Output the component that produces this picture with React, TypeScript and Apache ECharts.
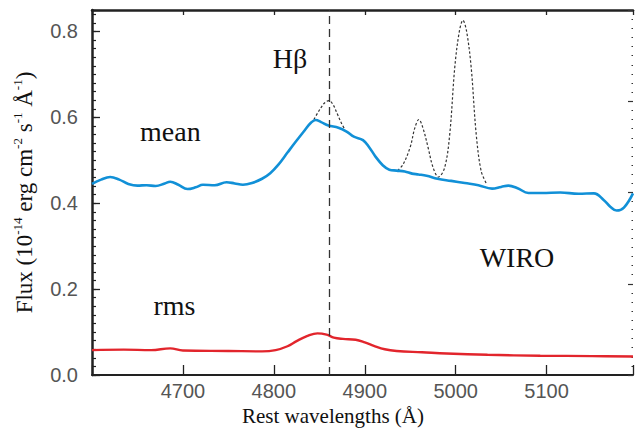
import React, { useEffect, useRef } from "react";
import * as echarts from "echarts";

// Rest wavelength (Å) and flux (1e-14 erg cm^-2 s^-1 Å^-1) of the mean spectrum
const meanWave = [4600, 4610, 4620, 4630, 4640, 4650, 4660, 4670, 4680, 4686, 4695, 4705, 4714, 4722, 4735, 4748, 4757, 4766, 4776, 4787, 4796, 4805, 4815, 4824, 4834, 4841, 4846, 4852, 4860, 4871, 4880, 4888, 4898, 4905, 4912, 4920, 4927, 4935, 4944, 4952, 4959, 4968, 4980, 4995, 5010, 5025, 5040, 5050, 5058, 5068, 5080, 5095, 5115, 5135, 5152, 5163, 5170, 5177, 5185, 5195];
const meanFlux = [0.445, 0.455, 0.461, 0.455, 0.445, 0.441, 0.442, 0.44, 0.446, 0.45, 0.443, 0.433, 0.437, 0.443, 0.442, 0.449, 0.446, 0.443, 0.447, 0.457, 0.47, 0.49, 0.518, 0.543, 0.57, 0.588, 0.594, 0.589, 0.581, 0.576, 0.567, 0.555, 0.547, 0.53, 0.508, 0.488, 0.478, 0.476, 0.474, 0.469, 0.467, 0.464, 0.457, 0.452, 0.447, 0.442, 0.434, 0.438, 0.441, 0.435, 0.424, 0.424, 0.425, 0.422, 0.423, 0.407, 0.392, 0.383, 0.39, 0.423];

// rms spectrum
const rmsWave = [4600, 4635, 4665, 4686, 4700, 4750, 4787, 4802, 4815, 4825, 4837, 4848, 4858, 4866, 4876, 4890, 4900, 4910, 4922, 4935, 4963, 4990, 5035, 5093, 5150, 5195];
const rmsFlux = [0.058, 0.059, 0.058, 0.062, 0.057, 0.056, 0.055, 0.058, 0.067, 0.079, 0.091, 0.097, 0.094, 0.087, 0.084, 0.082, 0.076, 0.068, 0.06, 0.056, 0.053, 0.05, 0.047, 0.045, 0.044, 0.043];

// mean spectrum with the narrow lines (dotted), Hβ narrow part
const narrowHbWave = [4844, 4851, 4856, 4860.5, 4865, 4870, 4874, 4878];
const narrowHbFlux = [0.595, 0.62, 0.634, 0.639, 0.63, 0.607, 0.588, 0.572];
// [O III] 4959, 5007 part
const narrowOWave = [4936, 4942, 4950, 4955, 4959.5, 4964, 4969.5, 4975, 4981, 4988, 4993.5, 4999, 5004, 5008, 5012, 5017, 5022.5, 5028, 5034];
const narrowOFlux = [0.476, 0.49, 0.531, 0.575, 0.595, 0.575, 0.531, 0.484, 0.461, 0.484, 0.562, 0.717, 0.8, 0.826, 0.8, 0.717, 0.562, 0.475, 0.445];

const hBeta = 4861;
const xTicks = [4700, 4800, 4900, 5000, 5100];
const yTicks = [0.0, 0.2, 0.4, 0.6, 0.8];

const SERIF = "'Liberation Serif', 'Times New Roman', serif";
const SANS = "'Liberation Sans', Arial, sans-serif";

function pairs(xs: number[], ys: number[]) {
  return xs.map((x, i) => [x, ys[i]]);
}

export default function App() {
  const ref = useRef<HTMLDivElement>(null);
  useEffect(() => {
    const chart = echarts.init(ref.current!, null, { renderer: "svg" });
    const isMajorY = (v: number) => yTicks.some((t) => Math.abs(t - v) < 1e-6);
    const narrowData = [
      ...pairs(narrowHbWave, narrowHbFlux),
      [4905, null],
      ...pairs(narrowOWave, narrowOFlux),
    ];
    chart.setOption({
      animation: false,
      backgroundColor: "#ffffff",
      grid: { left: 92, right: 1, top: 10, bottom: 62, containLabel: false },
      xAxis: [
        {
          type: "value",
          position: "bottom",
          min: 4600,
          max: 5195,
          interval: 100,
          name: "Rest wavelengths (Å)",
          nameLocation: "middle",
          nameGap: 25,
          nameTextStyle: { fontFamily: SERIF, fontSize: 21, color: "#111", padding: [0, 59, 0, 0] },
          axisLine: { show: true, onZero: false, lineStyle: { color: "#222", width: 2 } },
          axisTick: { show: true, inside: true, length: 10, lineStyle: { color: "#222", width: 1.3 } },
          axisLabel: {
            show: true,
            margin: 6,
            fontFamily: SANS,
            fontSize: 20,
            color: "#555",
            formatter: (v: number) => (xTicks.includes(v) ? String(v) : ""),
          },
          splitLine: { show: false },
        },
        {
          type: "value",
          position: "top",
          min: 4600,
          max: 5195,
          interval: 100,
          axisLine: { show: true, onZero: false, lineStyle: { color: "#222", width: 2.5 } },
          axisTick: { show: true, inside: true, length: 5, lineStyle: { color: "#222", width: 1.3 } },
          axisLabel: { show: false },
          splitLine: { show: false },
        },
      ],
      yAxis: [
        {
          type: "value",
          position: "left",
          min: 0,
          max: 0.85,
          interval: 0.02,
          name: "Flux (10{sup|-14} erg cm{sup|-2} s{sup|-1} Å{sup|-1})",
          nameLocation: "middle",
          nameGap: 55,
          nameTextStyle: {
            fontFamily: SERIF,
            fontSize: 23,
            color: "#111",
            rich: {
              sup: { fontFamily: SERIF, fontSize: 13, color: "#111", verticalAlign: "top", lineHeight: 26 },
            },
          },
          axisLine: { show: true, onZero: false, lineStyle: { color: "#222", width: 2.5 } },
          axisTick: { show: true, inside: true, length: 4, lineStyle: { color: "#222", width: 1.2 } },
          axisLabel: {
            show: true,
            margin: 14,
            fontFamily: SANS,
            fontSize: 20,
            color: "#555",
            formatter: (v: number) => (isMajorY(v) ? v.toFixed(1) : ""),
          },
          splitLine: { show: false },
        },
        {
          type: "value",
          position: "left",
          min: 0,
          max: 0.85,
          interval: 0.2,
          axisLine: { show: false, onZero: false },
          axisTick: { show: true, inside: true, length: 8, lineStyle: { color: "#222", width: 1.3 } },
          axisLabel: { show: false },
          splitLine: { show: false },
        },
        {
          type: "value",
          position: "right",
          min: 0,
          max: 0.8,
          interval: 0.2,
          axisLine: { show: false, onZero: false },
          axisTick: { show: true, inside: true, length: 5, lineStyle: { color: "#333", width: 1.2 } },
          minorTick: { show: true, splitNumber: 10, length: 1.5, lineStyle: { color: "#333", width: 1.2 } },
          axisLabel: { show: false },
          splitLine: { show: false },
        },
      ],
      series: [
        {
          name: "mean+narrow",
          type: "line",
          xAxisIndex: 0,
          yAxisIndex: 0,
          data: narrowData,
          showSymbol: false,
          smooth: 0.35,
          connectNulls: false,
          z: 1,
          lineStyle: { color: "#333", width: 1.2, type: [2.5, 2] },
        },
        {
          name: "mean",
          type: "line",
          xAxisIndex: 0,
          yAxisIndex: 0,
          data: pairs(meanWave, meanFlux),
          showSymbol: false,
          smooth: 0.4,
          z: 3,
          lineStyle: { color: "#1190d7", width: 2.6 },
          markLine: {
            silent: true,
            symbol: "none",
            label: { show: false },
            lineStyle: { color: "#333", width: 1.3, type: [8, 5] },
            data: [{ xAxis: hBeta }],
          },
        },
        {
          name: "rms",
          type: "line",
          xAxisIndex: 0,
          yAxisIndex: 0,
          data: pairs(rmsWave, rmsFlux),
          showSymbol: false,
          smooth: 0.4,
          z: 3,
          lineStyle: { color: "#e2252c", width: 2.4 },
        },
      ],
      graphic: [
        { type: "text", x: 290, y: 58, style: { text: "Hβ", font: `28px ${SERIF}`, fill: "#111", align: "center", verticalAlign: "middle" } },
        { type: "text", x: 140, y: 131, style: { text: "mean", font: `28px ${SERIF}`, fill: "#111", align: "left", verticalAlign: "middle" } },
        { type: "text", x: 517, y: 257, style: { text: "WIRO", font: `28px ${SERIF}`, fill: "#111", align: "center", verticalAlign: "middle" } },
        { type: "text", x: 174.5, y: 305.5, style: { text: "rms", font: `28px ${SERIF}`, fill: "#111", align: "center", verticalAlign: "middle" } },
      ],
    });
    return () => chart.dispose();
  }, []);
  return <div ref={ref} style={{ position: "absolute", left: 0, top: 0, width: 636, height: 437 }} />;
}
